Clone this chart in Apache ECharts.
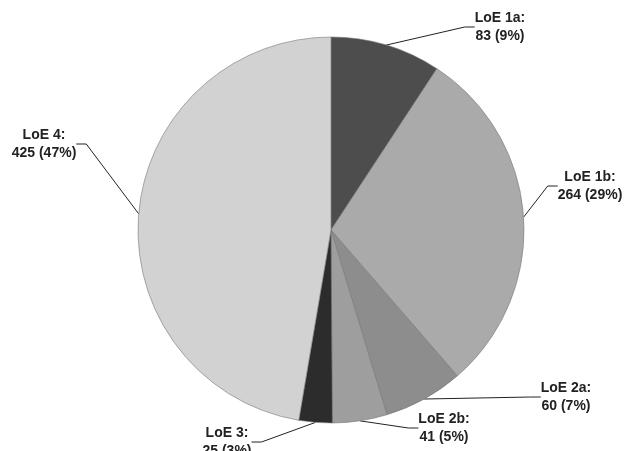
<!DOCTYPE html>
<html>
<head>
<meta charset="utf-8">
<script src="https://cdn.jsdelivr.net/npm/echarts@6/dist/echarts.min.js"></script>
<style>
  html, body { margin: 0; padding: 0; background: #fff; }
  #chart { width: 630px; height: 451px; }
</style>
</head>
<body>
<div id="chart"></div>
<script>
var names = ['LoE 1a', 'LoE 1b', 'LoE 2a', 'LoE 2b', 'LoE 3', 'LoE 4'];
var counts = [83, 264, 60, 41, 25, 425];
var colors = ['#4d4d4d', '#aaaaaa', '#8d8d8d', '#9e9e9e', '#2c2c2c', '#d2d2d2'];
// where each label sits (centre of the text block)
var labelX = [500, 590, 566, 444, 227, 44];
var labelY = [27, 186, 397, 428, 442, 144];

var total = counts.reduce(function (a, b) { return a + b; }, 0);

var chart = echarts.init(document.getElementById('chart'));

var option = {
  animation: false,
  series: [{
    type: 'pie',
    center: [331, 230],
    radius: 193,
    startAngle: 90,
    clockwise: true,
    data: names.map(function (n, i) {
      return { name: n, value: counts[i], itemStyle: { color: colors[i] } };
    }),
    itemStyle: { borderColor: '#777', borderWidth: 0.6 },
    label: {
      show: true,
      formatter: function (p) {
        return p.name + ':\n' + p.value + ' (' + Math.round(p.value / total * 100) + '%)';
      },
      fontFamily: 'Liberation Sans, Arial, sans-serif',
      fontWeight: 'bold',
      fontSize: 14,
      lineHeight: 18,
      color: '#222',
      align: 'center'
    },
    labelLine: {
      show: true,
      length: 10,
      length2: 10,
      lineStyle: { color: '#222', width: 1 }
    },
    labelLayout: function (p) {
      return {
        x: labelX[p.dataIndex],
        y: labelY[p.dataIndex],
        align: 'center',
        verticalAlign: 'middle'
      };
    }
  }]
};
chart.setOption(option);
</script>
</body>
</html>
